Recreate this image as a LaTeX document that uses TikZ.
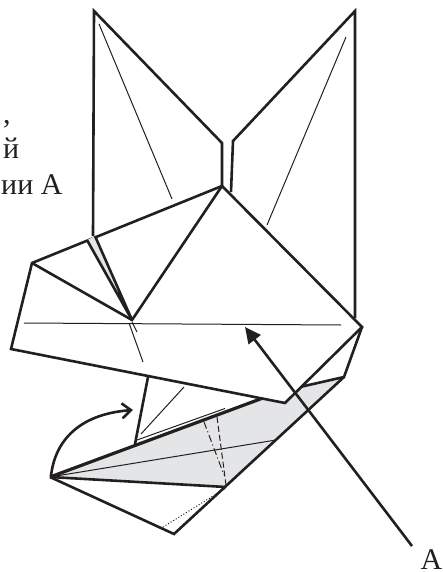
\documentclass[tikz,border=0pt]{standalone}
\usepackage{fontspec}
\setmainfont{Liberation Serif}
\usetikzlibrary{arrows.meta}
\definecolor{pgray}{HTML}{E4E5E6}
\definecolor{pink}{HTML}{231F20}
\begin{document}
\begin{tikzpicture}[x=1pt,y=-1pt,line join=miter,
  fold/.style={draw=pink,line width=2.6pt},
  crease/.style={draw=pink,line width=1pt},
  lab/.style={font=\fontsize{30}{30}\selectfont,text=pink,inner sep=0pt,anchor=base west}]
\useasboundingbox (0,0) rectangle (443,572);
% ---- upper flaps ----
\draw[fold] (222,186)--(222,143)--(94,11)--(93,236);
\draw[fold] (231,192)--(233,141)--(355,11)--(355,318);
\draw[crease] (99,24)--(172,199);
\draw[crease] (346,37)--(267,225);
% ---- shaded part ----
\fill[pgray] (50,477)--(263,398)--(300,387)--(344,377)--(226,487)--cycle;
\draw[fold] (50,477)--(174,534)--(344,377);
\draw[fold] (50,477)--(226,487);
\draw[fold,line width=3.2pt] (50,477)--(263,398);
\draw[fold] (300,387)--(344,377)--(362,327);
\draw[crease] (50,477)--(276,440);
\draw[crease,dash pattern=on 6pt off 3pt] (217,417)--(226,485);
\draw[crease,dash pattern=on 7pt off 3pt on 1pt off 3pt] (204,422)--(224,475);
\draw[crease,dotted] (163,527)--(226,488);
% ---- lower flap ----
\draw[fold] (148,377)--(135,444);
\draw[crease] (184,387)--(141,434);
\draw[crease] (137,440)--(225,408.5);
% ---- central square ----
\draw[fold,fill=white] (222,186)--(32,263)--(11,349)--(285,403)--(362,327)--cycle;
\fill[pgray] (87,240)--(95,236)--(132,320)--cycle;
\draw[fold] (87,240)--(132,320)--(95,236);
\draw[fold] (32,263)--(132,320)--(222,186);
\draw[crease] (24,323)--(341,325);
\draw[crease] (129,323)--(143,362);
\draw[crease] (132,322)--(137,332);
% ---- arrows and labels ----
\node[lab] (labtop) at (3,124) {,};
\node[lab] (labmid) at (3,159) {й};
\node[lab] (labbot) at (1,194) {ии А};
\node[lab] (laba) at (420.5,569) {А};
\coordinate (tipa) at (245,327);
\coordinate (taila) at (412,546);
\draw[draw=pink,line width=2.6pt,-{Triangle[length=16pt,width=15pt]}] (taila)--(tipa);
\coordinate (tipfold) at (133,410);
\coordinate (tailfold) at (51,476);
\draw[draw=pink,line width=2.6pt,-{Straight Barb[length=9pt,width=15pt]}] (tailfold) .. controls (55,440) and (80,414) .. (tipfold);
\end{tikzpicture}
\end{document}
